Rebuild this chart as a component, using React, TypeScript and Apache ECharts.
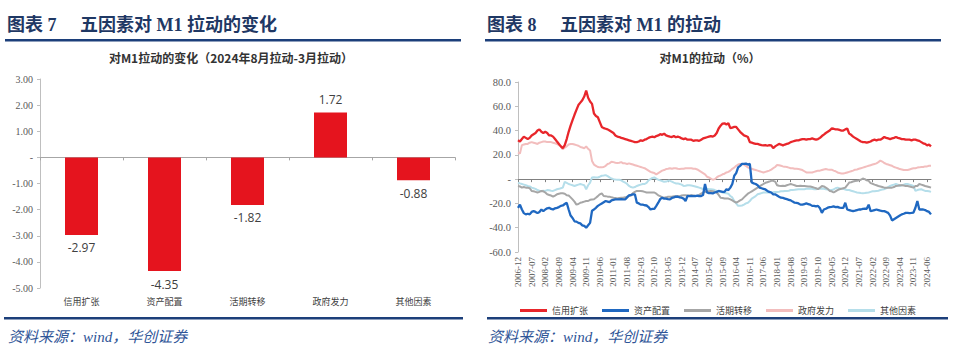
import React, { useEffect, useRef } from "react";
import * as echarts from "echarts";

// ---------- Left chart data ----------
const barCategories = ["信用扩张", "资产配置", "活期转移", "政府发力", "其他因素"];
const barValues = [-2.97, -4.35, -1.82, 1.72, -0.88];

// ---------- Right chart data (monthly, 2006-12 .. 2024-08) ----------
const startYear = 2006;
const startMonth = 12;
const monthCount = 213;
const months: string[] = [];
for (let i = 0; i < monthCount; i++) {
  const t = startYear * 12 + (startMonth - 1) + i;
  const y = Math.floor(t / 12);
  const m = (t % 12) + 1;
  months.push(`${y}-${m < 10 ? "0" + m : m}`);
}

const creditExpansion = [
  32, 31, 33, 35, 34, 33, 34, 36, 37, 38, 40, 41,
  39, 38, 39, 38, 36, 36, 35, 33, 31, 29, 27, 25.5,
  28, 33, 39, 44, 48.6, 53, 57, 61, 63, 65, 68, 73,
  67, 64, 62, 54, 52, 51, 47, 43, 42, 41.5, 41, 40,
  39, 38, 36, 35, 34.7, 34, 33.5, 33, 32.5, 32, 31.5, 31,
  30.5, 30.5, 31, 32, 31.5, 32.5, 33, 34, 34.7, 35, 34.5, 35.5,
  36, 37, 36.5, 37.5, 36, 35.5, 35, 34.7, 35.5, 34.5, 35, 34.5,
  33.5, 33, 33.5, 32.5, 32.5, 32.5, 31.5, 32, 32, 31.5, 32.5, 33.5,
  34, 34.5, 35, 35.5, 35, 36, 38, 41.7, 44, 45.8, 46, 45,
  46, 42, 42.5, 43, 43, 41, 39, 37.5, 36, 35.5, 34.7, 30.5,
  30, 29.5, 29, 29, 28.5, 28, 27.8, 28, 27.5, 28, 27.8, 25.5,
  27, 28, 29, 28.5, 27.8, 28.5, 29, 29.5, 30.5, 31, 31.5, 32,
  32, 32.5, 33, 33, 32.5, 33, 33, 33.5, 33, 32.5, 33, 34,
  35.5, 36.7, 38, 39, 40, 41.7, 41.5, 41, 41, 40.5, 40, 40,
  41, 41.7, 37.5, 36.5, 35, 34, 33, 32, 31, 30.5, 30.5, 30,
  30.5, 31, 32, 32.5, 32, 32.5, 32.5, 33.5, 34.7, 34, 33.5, 33,
  33.5, 34, 34.7, 34, 33.5, 33, 33, 32.5, 32.5, 32.5, 32, 32.5,
  32.5, 32, 31.5, 30.5, 29.5, 29, 27.8, 28.5, 27,
];

const assetAllocation = [
  -23.6, -21, -25, -28, -29, -28.5, -29, -27, -26.4, -27, -28, -27,
  -25, -26.4, -25, -24, -23.6, -24.5, -25, -24, -23.6, -23, -22, -21.7,
  -20.5, -19.4, -25, -30, -32, -34.7, -35, -36, -36.5, -38, -38.5, -40,
  -38, -36, -26, -25, -23.6, -22, -21, -20, -19, -18, -18.5, -19,
  -17.5, -17, -16.7, -16.7, -16.7, -16.5, -16.7, -16.7, -15, -13.3, -13, -12.5,
  -12.5, -19.4, -20, -21, -21, -21.5, -21.7, -23, -25, -24.5, -24.4, -22,
  -19.4, -16.5, -15.3, -16, -16, -16.5, -16.7, -15.5, -15, -14.4, -14.5, -15,
  -15.3, -16, -18, -13.9, -14, -13.9, -14, -13.9, -13.5, -14, -13.9, -13,
  -4, -11, -11.5, -11.5, -11.7, -11, -10.5, -9.7, -10, -10.5, -10.5, -8.3,
  -9, -7, -4, 2.8, 5, 9.7, 11, 12.5, 12.5, 12.8, 12, 12.5,
  -2.8, -3.5, -4, -5, -7, -7.5, -8, -8.5, -9.7, -10.5, -11, -12.5,
  -12.5, -13.5, -14.5, -15.3, -15.5, -16, -16.5, -17, -17.5, -18.5, -19.4, -19.5,
  -20, -21, -21, -20.5, -20, -20.5, -21, -22, -22, -22.5, -22, -24,
  -27.8, -25, -24.4, -23.5, -23, -22.8, -22.5, -23, -22.8, -23.5, -23.6, -23.6,
  -19.4, -25, -25.5, -26, -26.4, -26, -25.5, -25, -25, -24.5, -24.4, -24.4,
  -21, -26.4, -26, -25.5, -25, -25.5, -26, -26.4, -26.4, -27, -27.8, -30,
  -34, -33, -32, -31, -30, -29, -28.5, -27.8, -27.8, -28, -27.8, -27.5,
  -23.6, -18, -25, -25, -25, -25.5, -26.4, -27, -29,
];

const demandShift = [
  -5.6, -6, -7, -6.5, -7, -7, -7.5, -9.7, -10, -10.5, -11, -10.5,
  -9.7, -10, -11, -12.5, -13, -13.5, -14.4, -13.5, -12.5, -12, -11.7, -11.7,
  -12, -13.3, -13.5, -15, -16.7, -18.5, -21, -20.5, -19.4, -19, -18.5, -18,
  -18, -17, -16.7, -16.5, -15.3, -14, -12.5, -11.7, -13.9, -14, -14.4, -14.4,
  -15, -15.3, -15.5, -16, -15.5, -15.3, -15.3, -15, -14.5, -14, -13.5, -11.5,
  -10.5, -9.7, -9.7, -9.7, -10, -10.5, -11, -11, -11, -11, -11, -12,
  -13.3, -14, -15, -15.3, -15, -14.5, -14.5, -14.4, -14, -14, -13.9, -14,
  -13.5, -13.3, -13.3, -13.5, -13.5, -13.3, -13.5, -13.9, -13.9, -13, -12, -11,
  -10.5, -10, -10, -9.7, -10, -10.5, -11, -13, -15.3, -15.5, -16, -16,
  -16, -16.7, -17.5, -18.5, -19.4, -18.5, -17.5, -16.7, -15, -13.5, -12, -11,
  -10, -9, -8, -7, -6, -5, -4, -3, -2.5, -2, -1.4, -1.4,
  -2, -5, -5.5, -5.6, -5.5, -5.6, -5, -4.5, -4, -4.5, -5, -5.6,
  -5.6, -5.5, -5.6, -5.6, -5.8, -6, -6, -6.5, -7, -7.5, -8.3, -7,
  -5.6, -6, -7, -8, -9.7, -10, -11, -10, -9, -8.3, -8, -7.5,
  -7, -5, -2.8, -2.5, -2, -1.5, -1.4, -1, -0.5, 0.5, 0, -1,
  -1.4, -3.3, -3.8, -4.5, -5, -5.6, -6, -6.5, -7, -7, -7, -7,
  -7, -6.5, -5.6, -5.5, -5, -5, -5.3, -5.6, -5.6, -6, -6.5, -7,
  -5.6, -5.6, -4, -4.5, -5, -5.6, -6, -6.5, -7,
];

const governmentEffort = [
  22, 21, 28, 28.5, 29, 29, 30, 30.5, 30, 29.5, 29, 30,
  30.5, 31, 31, 30.5, 30.5, 30.5, 30, 29.5, 29, 28, 27, 24.5,
  26, 27, 28.5, 29, 29, 28.5, 28, 27.5, 26.5, 26, 25.5, 27,
  25, 23.6, 15, 12, 11, 10, 9.7, 9.7, 10, 11, 12.5, 13,
  14.4, 14, 13.5, 13.3, 13.5, 14, 13, 13, 12.5, 13, 12.5, 12,
  11.5, 11, 10.5, 10, 9.5, 9, 8, 7, 6, 5.5, 5, 4,
  5, 6, 7, 7.5, 8.3, 8.5, 9, 8.5, 9, 9, 8.5, 8.3,
  8.5, 8.5, 9, 9, 9, 9, 8.5, 8.5, 8, 7, 6, 5,
  4, 2, 1.4, 0.5, -0.5, 0, 1.4, 2.5, 3, 4, 4.5, 5.5,
  6, 7, 8.5, 9.5, 11, 12, 12.5, 12.5, 12, 11, 9.7, 9,
  8.5, 8, 7.5, 7, 6.5, 6, 5.5, 6, 6.5, 7, 7.8, 9,
  10, 11.7, 11.5, 11, 10.5, 10.3, 10, 9.5, 9, 9, 8.5, 8.5,
  8.3, 8, 7.5, 6.5, 5.5, 5.5, 5.5, 5.5, 6, 6.5, 7, 7,
  7.5, 8, 8.3, 8, 7.8, 7.8, 7, 6.5, 5.5, 5, 4.7, 4.7,
  5, 5.5, 6, 6.5, 7, 7.8, 8, 8.5, 9, 9.5, 10, 10.5,
  11, 11.5, 12, 12.5, 13, 14, 15.3, 14.5, 13.3, 12.5, 12, 11.5,
  11, 10, 9.5, 9, 8.3, 8, 7.5, 7.5, 7.5, 8, 8.5, 9,
  9, 9.5, 9.7, 10, 10, 10.5, 10.5, 11, 11,
];

const otherFactors = [
  -2.8, -3.5, -4, -4.5, -5, -5.6, -6, -7, -7.5, -8, -9, -9.5,
  -9.7, -9.5, -9.7, -9, -9.2, -9.5, -9.7, -9, -8.3, -8, -7.5, -7,
  -2.2, -3, -4, -4.5, -5, -5.6, -5, -4.5, -4, -4.5, -5, -8.3,
  -5, -2.8, 1.4, 1.5, 1.4, 1.4, 2, 2.8, 3, 3.3, 2.5, 1.4,
  0.5, 0, -0.3, -0.5, -0.5, -1, -2, -2.8, -4, -5.6, -6.5, -7,
  -6.5, -5.6, -5, -4.5, -4, -4, -3, -1, 0, 1, 1.4, 0.5,
  -0.5, -1, -1.5, -2.2, -2, -1.4, -1.4, -2, -2.8, -3.5, -3.5, -4,
  -4.5, -5.6, -5.5, -5, -5, -5.3, -5.6, -6, -6.5, -7, -7.5, -8.3,
  -7, -8, -8.3, -8.3, -8.5, -9, -9.7, -10, -10.5, -11, -11.5, -11.7,
  -12, -13.9, -15, -18, -20, -22, -22, -21.7, -21, -20, -19.4, -18,
  -16, -15, -14, -12.5, -12, -11.5, -11, -11, -11, -11, -11, -10.8,
  -10.5, -10.5, -10.3, -10, -10, -9.7, -9.7, -9.5, -9, -9, -8.8, -8.5,
  -8.3, -8.3, -8.3, -8.3, -8, -8, -7.8, -8, -8.3, -8.3, -8, -8,
  -7.8, -8, -8.3, -8.5, -9, -9, -8.5, -7.5, -7, -7.5, -7.8, -8,
  -8.5, -9, -9, -9.5, -10, -10.5, -11, -11.2, -11.5, -11.7, -11.5, -11.2,
  -11, -10.5, -10, -10, -9.7, -9.5, -9, -8.5, -8.3, -7.5, -6.5, -5.6,
  -5, -4.5, -4, -4.5, -5.6, -5, -4.5, -4, -4, -4.5, -5, -5.6,
  -9.7, -9, -8.5, -8.3, -9, -9.7, -9.7, -10, -10.5,
];

const lineSeriesNames = ["信用扩张", "资产配置", "活期转移", "政府发力", "其他因素"];
const lineSeriesData = [creditExpansion, assetAllocation, demandShift, governmentEffort, otherFactors];
const lineColors = ["#E8262B", "#1F68C1", "#A6A6A6", "#F2BDBD", "#B5DEEA"];
const lineWidths = [2.3, 2.3, 2, 2, 2];

const SERIF = "'Liberation Serif', 'Times New Roman', serif";
const CJK = "'Noto Sans CJK SC', sans-serif";
const TITLE_FONT = "'Liberation Serif', 'Noto Sans CJK SC', serif";
const NAVY = "#1F3864";
const RULE = "#1C3F7A";
const AXIS_GRAY = "#BFBFBF";
const LABEL_GRAY = "#595959";

export default function App() {
  const ref = useRef<HTMLDivElement>(null);

  useEffect(() => {
    if (!ref.current) return;
    const chart = echarts.init(ref.current, undefined, { renderer: "svg" });

    const option: any = {
      animation: false,
      backgroundColor: "#ffffff",
      grid: [
        { left: 40, top: 79, width: 415, height: 209 },
        { left: 518, top: 82, width: 413, height: 170 },
      ],
      xAxis: [
        {
          gridIndex: 0,
          type: "category",
          data: barCategories,
          position: "bottom",
          axisLine: { show: false, onZero: false },
          axisTick: { show: false },
          axisLabel: { fontFamily: CJK, fontSize: 9, color: "#404040", margin: 9 },
        },
        {
          gridIndex: 0,
          type: "category",
          data: barCategories,
          position: "bottom",
          axisLine: { show: true, onZero: true, lineStyle: { color: "#A6A6A6", width: 1 } },
          axisTick: { show: true, length: 3, lineStyle: { color: "#A6A6A6" } },
          axisLabel: { show: false },
        },
        {
          gridIndex: 1,
          type: "category",
          data: months,
          boundaryGap: false,
          position: "bottom",
          axisLine: { show: false, onZero: false },
          axisTick: { show: false },
          axisLabel: {
            rotate: 90,
            interval: 6,
            fontFamily: SERIF,
            fontSize: 9,
            color: LABEL_GRAY,
            margin: 5,
          },
        },
        {
          gridIndex: 1,
          type: "category",
          data: months,
          boundaryGap: false,
          position: "bottom",
          axisLine: { show: true, onZero: true, lineStyle: { color: "#808080", width: 1 } },
          axisTick: { show: true, interval: 6, length: 3, lineStyle: { color: "#808080" } },
          axisLabel: { show: false },
        },
      ],
      yAxis: [
        {
          gridIndex: 0,
          type: "value",
          min: -5,
          max: 3,
          interval: 1,
          axisLine: { show: true, lineStyle: { color: AXIS_GRAY } },
          axisTick: { show: true, length: 3, lineStyle: { color: AXIS_GRAY } },
          splitLine: { show: false },
          axisLabel: {
            fontFamily: SERIF,
            fontSize: 10,
            color: LABEL_GRAY,
            margin: 7,
            formatter: (v: number) => (v === 0 ? "-" : v.toFixed(2)),
          },
        },
        {
          gridIndex: 1,
          type: "value",
          min: -60,
          max: 80,
          interval: 20,
          axisLine: { show: true, lineStyle: { color: AXIS_GRAY } },
          axisTick: { show: true, length: 3, lineStyle: { color: AXIS_GRAY } },
          splitLine: { show: false },
          axisLabel: {
            fontFamily: SERIF,
            fontSize: 10.5,
            color: LABEL_GRAY,
            margin: 7,
            formatter: (v: number) => (v === 0 ? "-" : v.toFixed(1)),
          },
        },
      ],
      legend: {
        data: lineSeriesNames,
        left: 515,
        top: 301,
        icon: "rect",
        itemWidth: 27,
        itemHeight: 3,
        itemGap: 14,
        textStyle: { fontFamily: CJK, fontSize: 9, color: "#404040", padding: [0, 0, 0, 0] },
      },
      series: [
        {
          type: "bar",
          name: "变化",
          xAxisIndex: 0,
          yAxisIndex: 0,
          data: barValues.map((v) => ({
            value: v,
            label: { position: v < 0 ? "bottom" : "top" },
          })),
          barWidth: 33,
          itemStyle: { color: "#E5141E" },
          label: {
            show: true,
            fontFamily: "'Open Sans', 'Noto Sans', sans-serif",
            fontSize: 12,
            color: "#404040",
            distance: 7,
            position: "top",
            formatter: (p: any) => Number(p.value).toFixed(2),
          },
        },
        ...lineSeriesNames.map((name, i) => ({
          type: "line",
          name,
          xAxisIndex: 2,
          yAxisIndex: 1,
          data: lineSeriesData[i],
          showSymbol: false,
          symbol: "none",
          lineStyle: { color: lineColors[i], width: lineWidths[i] },
          itemStyle: { color: lineColors[i] },
          z: 10 - i,
        })),
      ],
      graphic: [
        { type: "text", left: 7, top: 16, style: { text: "图表 7", font: `bold 18px ${TITLE_FONT}`, fill: NAVY } },
        { type: "text", left: 80, top: 16, style: { text: "五因素对 M1 拉动的变化", font: `bold 18px ${TITLE_FONT}`, fill: NAVY } },
        { type: "text", left: 487, top: 16, style: { text: "图表 8", font: `bold 18px ${TITLE_FONT}`, fill: NAVY } },
        { type: "text", left: 560, top: 16, style: { text: "五因素对 M1 的拉动", font: `bold 18px ${TITLE_FONT}`, fill: NAVY } },
        { type: "rect", shape: { x: 5, y: 39, width: 456, height: 2.5 }, style: { fill: RULE } },
        { type: "rect", shape: { x: 485, y: 39, width: 456, height: 2.5 }, style: { fill: RULE } },
        { type: "rect", shape: { x: 4, y: 317, width: 459, height: 2.5 }, style: { fill: RULE } },
        { type: "rect", shape: { x: 487, y: 317, width: 461, height: 2.5 }, style: { fill: RULE } },
        {
          type: "text",
          x: 231,
          y: 57,
          style: {
            text: "对M1拉动的变化（2024年8月拉动-3月拉动）",
            font: `bold 12px ${CJK}`,
            fill: "#333333",
            align: "center",
            verticalAlign: "middle",
          },
        },
        {
          type: "text",
          x: 710,
          y: 57,
          style: {
            text: "对M1的拉动（%）",
            font: `bold 12px ${CJK}`,
            fill: "#333333",
            align: "center",
            verticalAlign: "middle",
          },
        },
        {
          type: "text",
          x: 8,
          y: 337,
          style: {
            text: "资料来源：wind，华创证券",
            font: `italic 15px ${TITLE_FONT}`,
            fill: "#2F5597",
            verticalAlign: "middle",
          },
        },
        {
          type: "text",
          x: 488,
          y: 337,
          style: {
            text: "资料来源：wind，华创证券",
            font: `italic 15px ${TITLE_FONT}`,
            fill: "#2F5597",
            verticalAlign: "middle",
          },
        },
      ],
    };

    chart.setOption(option);
    return () => chart.dispose();
  }, []);

  return (
    <div
      ref={ref}
      style={{ position: "fixed", left: 0, top: 0, width: 960, height: 356, background: "#fff" }}
    />
  );
}
